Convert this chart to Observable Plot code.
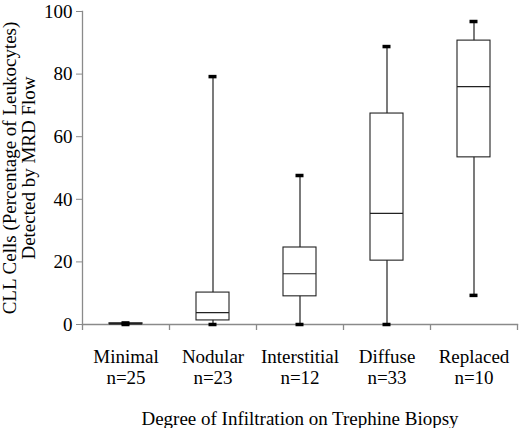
<!DOCTYPE html>
<html>
<head>
<meta charset="utf-8">
<script src="https://cdn.jsdelivr.net/npm/d3@7"></script>
<script src="https://cdn.jsdelivr.net/npm/@observablehq/plot@0.6"></script>
<style>
  html, body { margin: 0; padding: 0; background: #fff; }
  #chart svg { display: block; }
</style>
</head>
<body>
<div id="chart"></div>
<script>
const categories = ["Minimal", "Nodular", "Interstitial", "Diffuse", "Replaced"];
const counts = [25, 23, 12, 33, 10];
const mins = [0, 0, 0, 0, 9.3];
const q1s = [0.1, 1.3, 9.0, 20.4, 53.4];
const medians = [0.2, 3.8, 16.2, 35.5, 76.0];
const q3s = [0.4, 10.2, 24.6, 67.4, 90.7];
const maxs = [0.5, 79.2, 47.6, 88.8, 96.8];
const yTicks = [0, 20, 40, 60, 80, 100];

const data = categories.map((c, i) => ({
  cat: c, n: counts[i], min: mins[i], q1: q1s[i], med: medians[i], q3: q3s[i], max: maxs[i]
}));

const W = 520, H = 428;
const mL = 82, mR = 3, mT = 11, mB = 104;
const bw = (W - mL - mR) / categories.length;
const boxInset = (bw - 33) / 2;
const capInset = (bw - 8) / 2;
const font = "'Liberation Serif', 'Times New Roman', serif";
const axisGray = "#8a8a8a";

const chart = Plot.plot({
  width: W,
  height: H,
  marginLeft: mL,
  marginRight: mR,
  marginTop: mT,
  marginBottom: mB,
  style: { fontFamily: font, fontSize: "19px", color: "#000", background: "#fff" },
  x: { type: "band", domain: categories, padding: 0, label: null },
  y: { domain: [0, 100], label: null },
  marks: [
    Plot.frame({ anchor: "left", stroke: axisGray, strokeWidth: 1.3 }),
    Plot.frame({ anchor: "bottom", stroke: axisGray, strokeWidth: 1.3 }),
    Plot.axisY({ ticks: yTicks, tickSize: 6, tickPadding: 4, stroke: axisGray, fill: "#000", fontSize: 19,
      label: "CLL Cells (Percentage of Leukocytes)\nDetected by MRD Flow", labelAnchor: "center", labelArrow: "none",
      labelOffset: 80, lineHeight: 1.05 }),
    Plot.axisX({ ticks: categories, tickSize: 0, tickPadding: 24, fill: "#000", fontSize: 19, lineHeight: 1.1,
      tickFormat: (d) => `${d}\nn=${counts[categories.indexOf(d)]}`,
      label: "Degree of Infiltration on Trephine Biopsy", labelAnchor: "center", labelArrow: "none", labelOffset: 100 }),
    Plot.axisX({ ticks: categories, tickSize: 6, stroke: axisGray, strokeWidth: 1.3, tickFormat: () => "", label: null, dx: -bw / 2 }),
    Plot.axisX({ ticks: [categories[categories.length - 1]], tickSize: 6, stroke: axisGray, strokeWidth: 1.3, tickFormat: () => "", label: null, dx: bw / 2 }),
    Plot.ruleX(data, { x: "cat", y1: "min", y2: "max", stroke: "#333", strokeWidth: 1.3 }),
    Plot.barY(data, { x: "cat", y1: "q1", y2: "q3", fill: "#fff", stroke: "#222", strokeWidth: 1.1, insetLeft: boxInset, insetRight: boxInset }),
    Plot.tickY(data, { x: "cat", y: "med", stroke: "#222", strokeWidth: 1.1, insetLeft: boxInset, insetRight: boxInset }),
    Plot.tickY(data, { x: "cat", y: "max", stroke: "#000", strokeWidth: 3.5, insetLeft: capInset, insetRight: capInset }),
    Plot.tickY(data, { x: "cat", y: "min", stroke: "#000", strokeWidth: 3.5, insetLeft: capInset, insetRight: capInset })
  ]
});
document.getElementById("chart").appendChild(chart);
</script>
</body>
</html>
